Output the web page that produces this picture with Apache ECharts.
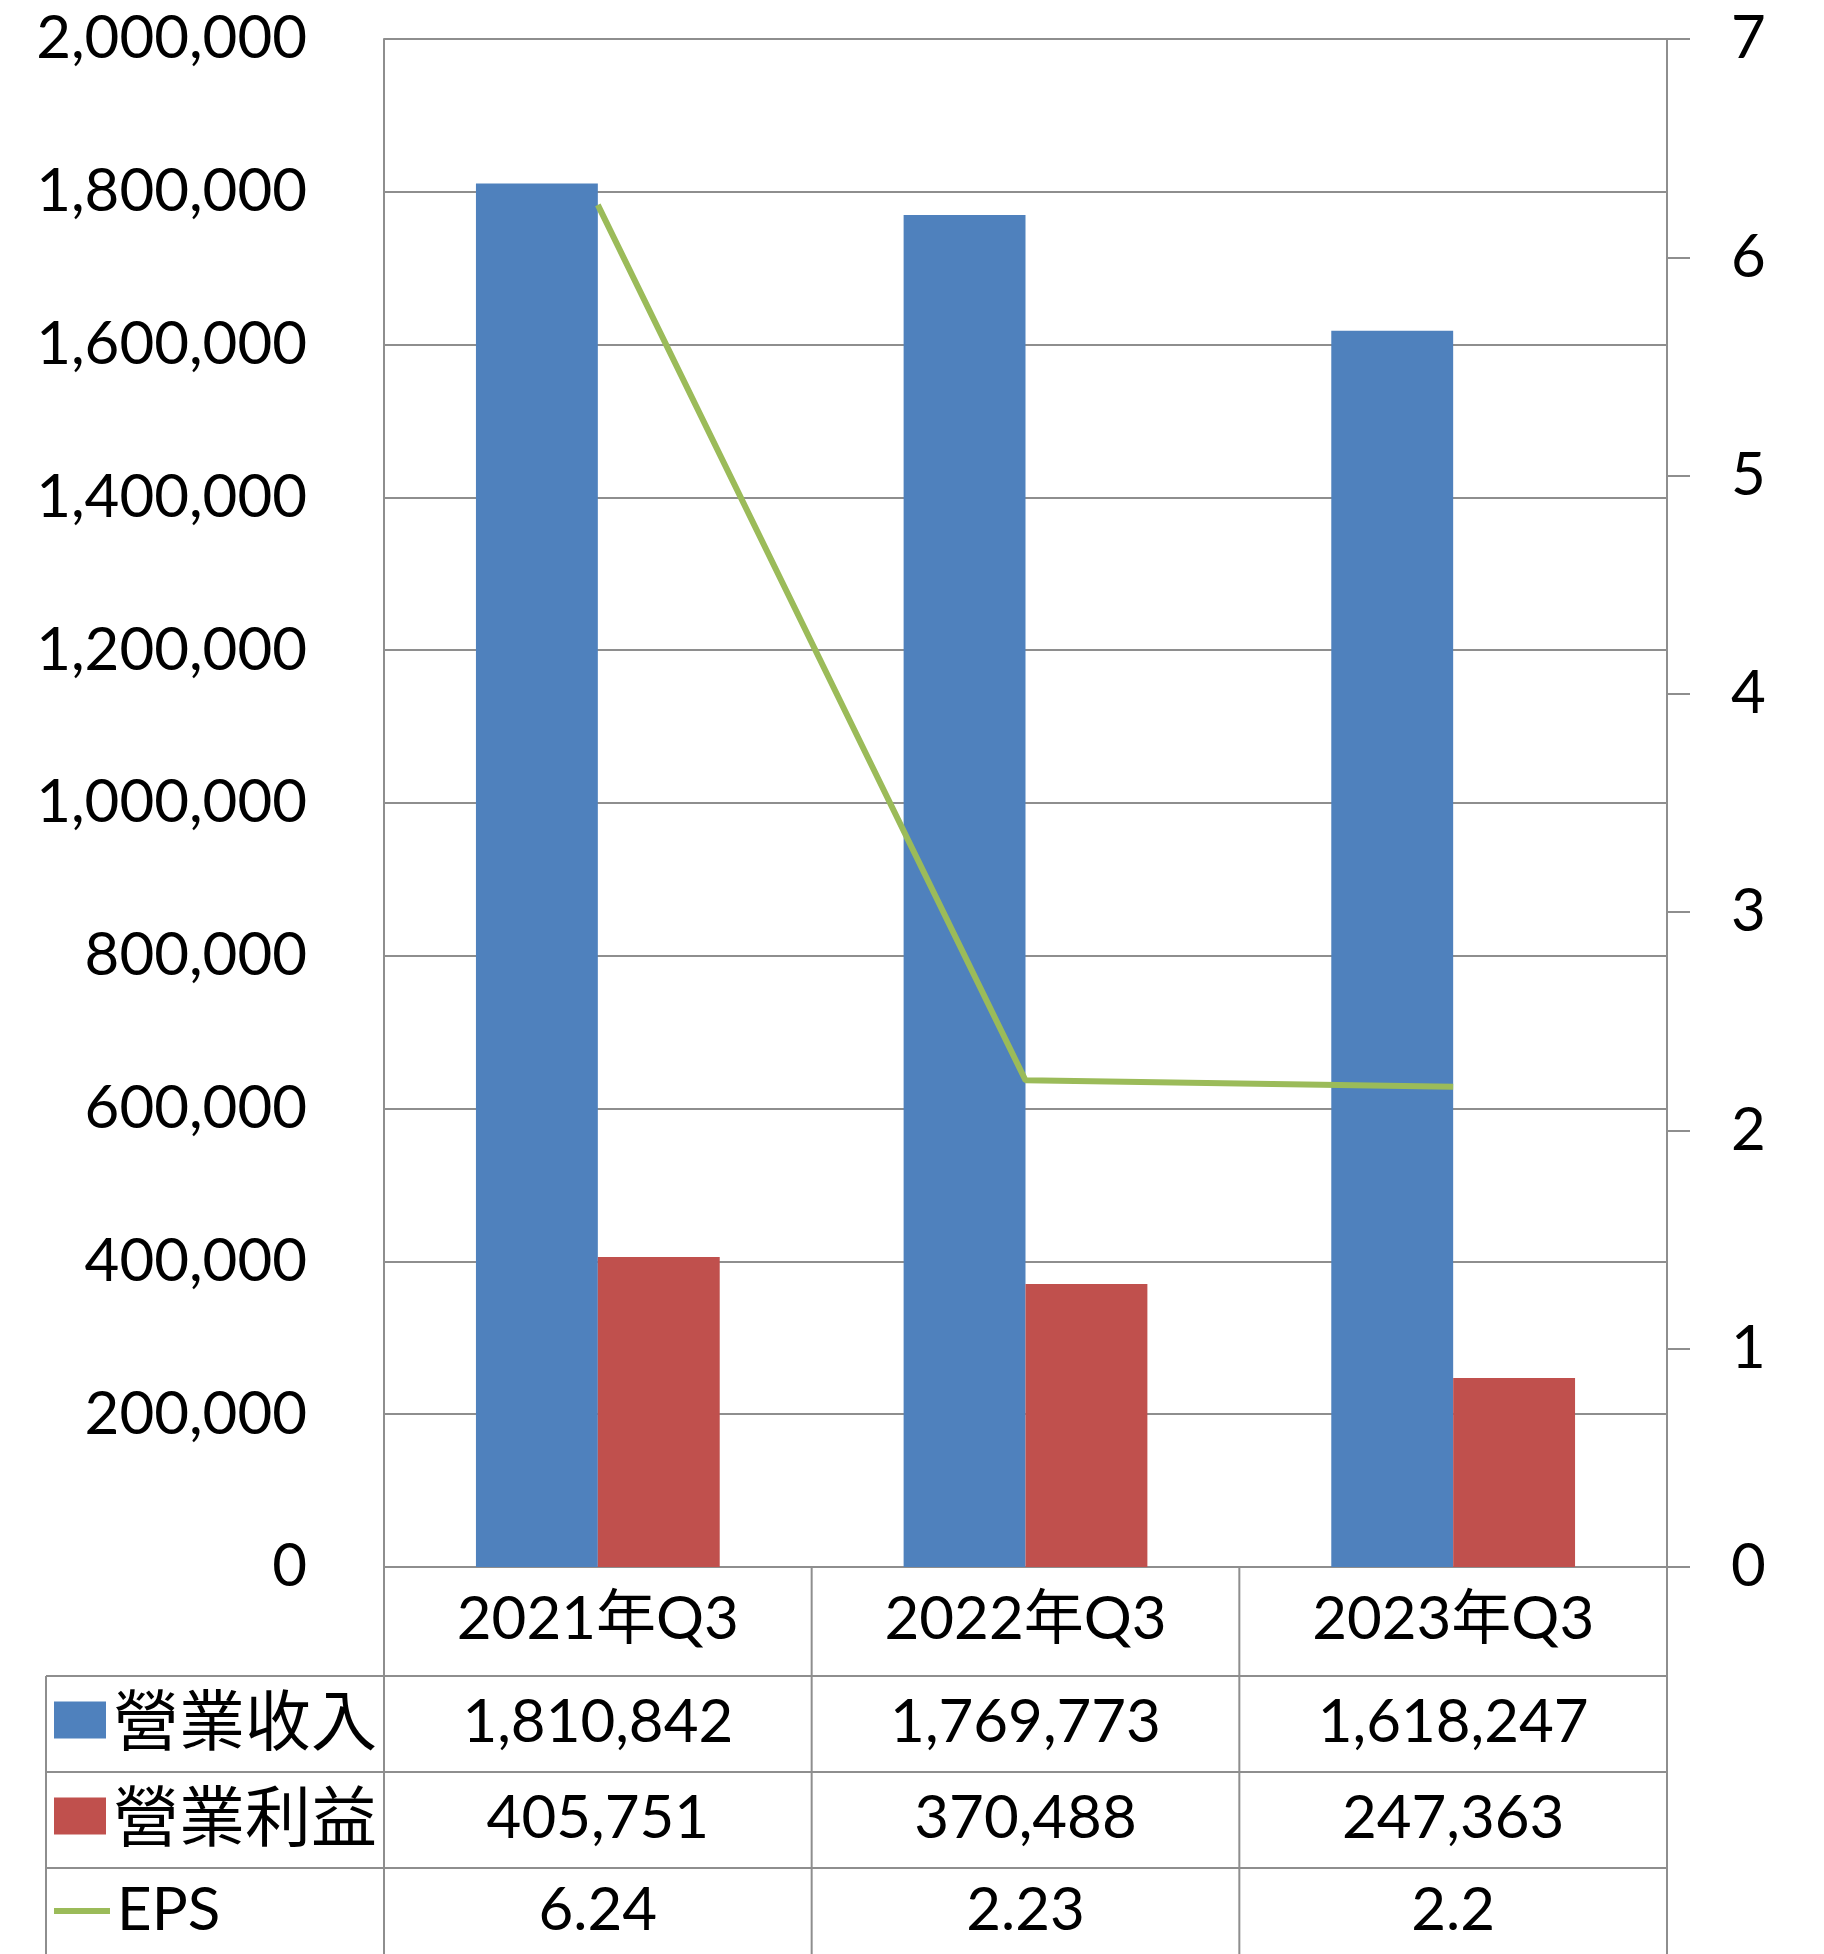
<!DOCTYPE html>
<html><head><meta charset="utf-8">
<script src="https://cdn.jsdelivr.net/npm/echarts@6/dist/echarts.min.js"></script>
<style>html,body{margin:0;padding:0;background:#fff}#c{width:1824px;height:1954px}</style>
</head><body><div id="c"></div>
<script>
// ---- data ----
const categories = ['2021年Q3', '2022年Q3', '2023年Q3'];
const revenue = [1810842, 1769773, 1618247];
const opIncome = [405751, 370488, 247363];
const eps = [6.24, 2.23, 2.2];
const seriesNames = ['營業收入', '營業利益', 'EPS'];
const leftAxisRange = { min: 0, max: 2000000, interval: 200000 };
const rightAxisRange = { min: 0, max: 7, interval: 1 };

// ---- styles ----
const FONT = "Lato, 'Noto Sans CJK TC', sans-serif";
const CJK = "'Noto Sans CJK TC', sans-serif";
const GRAY = '#8e8e8e';
const COLORS = ['#4F81BD', '#C0504D', '#9BBB59'];
const FS = 60;
const fmt = v => v.toLocaleString('en-US');

const chart = echarts.init(document.getElementById('c'), null, { renderer: 'canvas' });

function rowAxis(data, offset, margin) {
  return {
    type: 'category', data: data, gridIndex: 0, position: 'bottom', offset: offset,
    axisLine: { show: false }, axisTick: { show: false }, splitLine: { show: false },
    axisLabel: { interval: 0, margin: margin, verticalAlign: 'middle', fontSize: FS, color: '#000', fontFamily: FONT }
  };
}

const legendBase = {
  orient: 'vertical', left: 54, selectedMode: false, itemWidth: 52, itemHeight: 37, padding: 0,
  icon: 'rect',
  textStyle: { fontSize: 66, lineHeight: 80, color: '#000', fontFamily: CJK, padding: [0, 0, 0, 2] }
};

const option = {
  backgroundColor: '#fff',
  animation: false,
  grid: { left: 384, right: 157, top: 39, bottom: 387, containLabel: false },
  legend: [
    Object.assign({}, legendBase, { data: [seriesNames[0]], top: 1680 }),
    Object.assign({}, legendBase, { data: [seriesNames[1]], top: 1776 }),
    Object.assign({}, legendBase, { data: [seriesNames[2]], top: 1871, itemWidth: 56, itemHeight: 6,
      textStyle: { fontSize: FS, lineHeight: 80, color: '#000', fontFamily: FONT, padding: [0, 0, 0, 2] } })
  ],
  xAxis: [
    {
      type: 'category', data: categories, position: 'bottom',
      axisLine: { show: true, lineStyle: { color: GRAY, width: 2 } },
      axisTick: { show: false },
      axisLabel: { interval: 0, margin: 53, verticalAlign: 'middle', fontSize: FS, color: '#000', fontFamily: FONT }
    },
    rowAxis(revenue.map(fmt), 109, 47),
    rowAxis(opIncome.map(fmt), 205, 47),
    rowAxis(eps.map(String), 301, 43)
  ],
  yAxis: [
    {
      type: 'value', position: 'left', min: leftAxisRange.min, max: leftAxisRange.max, interval: leftAxisRange.interval,
      axisLine: { show: true, lineStyle: { color: GRAY, width: 2 } },
      axisTick: { show: false },
      splitLine: { show: true, lineStyle: { color: GRAY, width: 2 } },
      axisLabel: { margin: 77, fontSize: FS, color: '#000', fontFamily: FONT, formatter: v => fmt(v) }
    },
    {
      type: 'value', position: 'right', min: rightAxisRange.min, max: rightAxisRange.max, interval: rightAxisRange.interval,
      axisLine: { show: true, lineStyle: { color: GRAY, width: 2 } },
      axisTick: { show: true, inside: false, length: 23, lineStyle: { color: GRAY, width: 2 } },
      splitLine: { show: false },
      axisLabel: { margin: 64, fontSize: FS, color: '#000', fontFamily: FONT, align: 'left' }
    }
  ],
  series: [
    { name: seriesNames[0], type: 'bar', xAxisIndex: 0, yAxisIndex: 0, data: revenue,
      barWidth: '28.5%', barGap: '0%', itemStyle: { color: COLORS[0] } },
    { name: seriesNames[1], type: 'bar', xAxisIndex: 0, yAxisIndex: 0, data: opIncome,
      barWidth: '28.5%', barGap: '0%', itemStyle: { color: COLORS[1] } },
    { name: seriesNames[2], type: 'line', xAxisIndex: 0, yAxisIndex: 1, data: eps,
      symbol: 'none', lineStyle: { color: COLORS[2], width: 6 }, itemStyle: { color: COLORS[2] } }
  ]
};
chart.setOption(option);

// ---- data table borders (derived from the axis scales) ----
const centers = categories.map((_, i) => chart.convertToPixel({ xAxisIndex: 0 }, i));
const band = centers[1] - centers[0];
const bounds = centers.map(c => c - band / 2).concat([centers[centers.length - 1] + band / 2]);
const yZero = chart.convertToPixel({ yAxisIndex: 0 }, 0);
const rowOffsets = [109, 205, 301];
const tableLeft = 46;
const bottom = 1960;
const lines = [];
const ls = { stroke: GRAY, lineWidth: 2 };
rowOffsets.forEach(o => lines.push({ type: 'line', shape: { x1: tableLeft, y1: yZero + o, x2: bounds[bounds.length - 1], y2: yZero + o }, style: ls, silent: true }));
bounds.forEach(x => lines.push({ type: 'line', shape: { x1: x, y1: yZero, x2: x, y2: bottom }, style: ls, silent: true }));
lines.push({ type: 'line', shape: { x1: tableLeft, y1: yZero + rowOffsets[0], x2: tableLeft, y2: bottom }, style: ls, silent: true });
chart.setOption({ graphic: lines });
</script>
</body></html>
